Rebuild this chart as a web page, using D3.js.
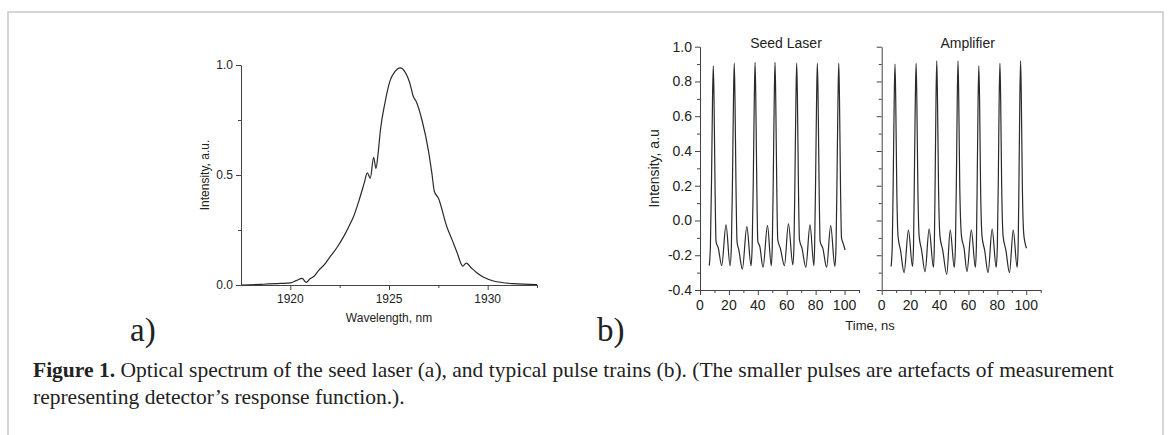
<!DOCTYPE html>
<html lang="en">
<head>
<meta charset="utf-8">
<title>Figure 1</title>
<script src="https://cdn.jsdelivr.net/npm/d3@7"></script>
<style>
  body { margin: 0; background: #fff; }
  svg text { font-family: "Liberation Sans", Arial, sans-serif; fill: #222; }
  .axis path, .axis line { stroke: #444; stroke-width: 1; }
  .serif { font-family: "Liberation Serif", "Times New Roman", serif; }
</style>
</head>
<body>
<script>
// ---- data: spectrum (panel a)
var wavelength = [1917.5, 1918.5, 1919.5, 1920.0, 1920.3, 1920.6, 1920.8, 1921.0, 1921.2, 1921.45,
  1921.7, 1922.0, 1922.4, 1922.7, 1923.0, 1923.2, 1923.5, 1923.75, 1923.9, 1924.05,
  1924.22, 1924.34, 1924.45, 1924.56, 1924.8, 1925.06, 1925.3, 1925.57, 1925.8, 1926.08,
  1926.22, 1926.4, 1926.67, 1927.0, 1927.17, 1927.3, 1927.5, 1927.93, 1928.2, 1928.44,
  1928.74, 1928.91, 1929.2, 1929.45, 1929.8, 1930.3, 1931.3, 1932.5];
var intensity = [0.000, 0.003, 0.007, 0.010, 0.020, 0.030, 0.012, 0.028, 0.040, 0.068,
  0.090, 0.127, 0.175, 0.220, 0.272, 0.310, 0.390, 0.465, 0.510, 0.485,
  0.580, 0.530, 0.600, 0.700, 0.830, 0.930, 0.970, 0.987, 0.970, 0.910,
  0.860, 0.830, 0.750, 0.610, 0.510, 0.425, 0.395, 0.265, 0.205, 0.150,
  0.086, 0.099, 0.075, 0.056, 0.035, 0.018, 0.006, 0.002];
var wlTicks = [1920, 1925, 1930];
var intTicks = [0.0, 0.5, 1.0];

// ---- data: pulse trains (panel b)
var seedTime = [6.4,
  7.2, 8.0, 8.7, 9.2, 9.7, 10.4, 11.1, 12.7, 15.0, 18.0, 20.8,
  21.7, 22.5, 23.2, 23.7, 24.2, 24.9, 25.6, 26.9, 29.3, 32.4, 35.3,
  36.1, 36.9, 37.6, 38.1, 38.6, 39.3, 40.0, 41.4, 43.6, 46.7, 49.3,
  50.0, 50.7, 51.4, 51.9, 52.4, 53.1, 53.8, 55.6, 58.4, 61.2, 64.2,
  65.0, 65.7, 66.4, 66.9, 67.4, 68.1, 68.8, 70.6, 73.2, 76.1, 78.8,
  79.3, 80.0, 80.7, 81.2, 81.7, 82.4, 83.1, 85.0, 87.6, 90.4, 93.3,
  94.1, 94.8, 95.5, 96.0, 96.5, 97.2, 97.9, 99.0, 100.4];
var seedValue = [-0.26,
  -0.15, 0.25, 0.72, 0.89, 0.70, 0.20, -0.12, -0.16, -0.26, -0.025, -0.26,
  -0.15, 0.25, 0.72, 0.905, 0.70, 0.20, -0.12, -0.17, -0.28, -0.035, -0.26,
  -0.15, 0.25, 0.72, 0.91, 0.70, 0.20, -0.12, -0.15, -0.27, -0.03, -0.26,
  -0.15, 0.25, 0.72, 0.91, 0.70, 0.20, -0.11, -0.16, -0.26, -0.02, -0.255,
  -0.15, 0.25, 0.72, 0.905, 0.70, 0.20, -0.11, -0.16, -0.27, -0.025, -0.26,
  -0.15, 0.25, 0.72, 0.905, 0.70, 0.20, -0.12, -0.16, -0.27, -0.03, -0.265,
  -0.15, 0.25, 0.72, 0.905, 0.70, 0.20, -0.10, -0.13, -0.17];
var ampTime = [6.5,
  7.3, 8.0, 8.7, 9.2, 9.7, 10.4, 11.3, 13.0, 15.5, 18.5, 21.3,
  22.0, 22.6, 23.3, 23.8, 24.3, 25.0, 25.9, 27.6, 30.0, 32.8, 35.8,
  36.4, 37.0, 37.6, 38.1, 38.6, 39.3, 40.3, 42.2, 45.0, 47.4, 50.2,
  51.0, 51.7, 52.3, 52.8, 53.3, 54.0, 55.2, 57.0, 59.0, 62.0, 64.8,
  65.5, 66.1, 66.7, 67.2, 67.7, 68.4, 69.4, 71.2, 73.6, 76.4, 79.2,
  80.0, 80.7, 81.3, 81.8, 82.3, 83.0, 84.0, 85.9, 88.4, 91.0, 93.7,
  94.4, 95.0, 95.6, 96.1, 96.6, 97.3, 98.2, 99.2, 100.2];
var ampValue = [-0.265,
  -0.15, 0.25, 0.72, 0.90, 0.70, 0.20, -0.09, -0.17, -0.30, -0.055, -0.265,
  -0.15, 0.25, 0.72, 0.905, 0.70, 0.20, -0.09, -0.17, -0.295, -0.05, -0.27,
  -0.15, 0.25, 0.72, 0.918, 0.70, 0.20, -0.09, -0.17, -0.31, -0.055, -0.27,
  -0.15, 0.25, 0.72, 0.918, 0.70, 0.20, -0.09, -0.16, -0.295, -0.055, -0.27,
  -0.15, 0.25, 0.70, 0.89, 0.70, 0.20, -0.09, -0.17, -0.30, -0.05, -0.27,
  -0.15, 0.25, 0.72, 0.905, 0.70, 0.20, -0.09, -0.17, -0.30, -0.055, -0.27,
  -0.15, 0.25, 0.72, 0.918, 0.70, 0.20, -0.07, -0.13, -0.16];
var timeTicks = [0, 20, 40, 60, 80, 100];
var pulseTicks = [-0.4, -0.2, 0.0, 0.2, 0.4, 0.6, 0.8, 1.0];

var W = 1171, H = 435;
var svg = d3.select("body").append("svg").attr("width", W).attr("height", H);

// frame
svg.append("rect").attr("x", 8).attr("y", 12).attr("width", 1155).attr("height", 460)
  .attr("fill", "none").attr("stroke", "#c8c8c8").attr("stroke-width", 1.5);

function zip(a, b) { return a.map(function(v, i) { return [v, b[i]]; }); }
function fmt1(d) { return d.toFixed(1); }

// draw an axis with major + minor ticks
function drawAxis(g, scale, orient, major, minor, labels, fs) {
  var mk = orient == "left" ? d3.axisLeft : d3.axisBottom;
  g.append("g").attr("class", "axis")
    .call(mk(scale).tickValues(minor).tickSize(3).tickFormat("").tickSizeOuter(0));
  var ax = g.append("g").attr("class", "axis")
    .call(mk(scale).tickValues(major).tickSize(5).tickSizeOuter(0)
      .tickFormat(labels ? fmt1 : ""));
  ax.select(".domain").remove();
  ax.selectAll("text").style("font-size", fs + "px").attr("fill", "#222");
  return ax;
}

// ---------- panel a
var ax0 = 241, ax1 = 537, ay0 = 285, ay1 = 65;
var xA = d3.scaleLinear().domain([1917.5, 1932.5]).range([ax0, ax1]);
var yA = d3.scaleLinear().domain([0, 1]).range([ay0, ay1]);
var gA = svg.append("g");

var gAx = gA.append("g").attr("transform", "translate(0," + ay0 + ")");
drawAxis(gAx, xA, "bottom", wlTicks, [1922.5, 1927.5, 1932.5], false, 12);
wlTicks.forEach(function(t) {
  gAx.append("text").attr("x", xA(t)).attr("y", 18).attr("text-anchor", "middle")
    .style("font-size", "12px").text(t);
});
var gAy = gA.append("g").attr("transform", "translate(" + ax0 + ",0)");
drawAxis(gAy, yA, "left", intTicks, [0.25, 0.75], true, 12);

gA.append("path").datum(zip(wavelength, intensity))
  .attr("fill", "none").attr("stroke", "#2a2a2a").attr("stroke-width", 1.2)
  .attr("d", d3.line().x(function(d) { return xA(d[0]); }).y(function(d) { return yA(d[1]); })
    .curve(d3.curveMonotoneX));

gA.append("text").attr("transform", "translate(" + 209 + "," + ((ay0 + ay1) / 2) + ") rotate(-90)")
  .attr("text-anchor", "middle").style("font-size", "12px").text("Intensity, a.u.");
gA.append("text").attr("x", (ax0 + ax1) / 2).attr("y", 322).attr("text-anchor", "middle")
  .style("font-size", "12px").text("Wavelength, nm");
gA.append("text").attr("class", "serif").attr("x", 130).attr("y", 341)
  .style("font-size", "33px").text("a)");

// ---------- panel b
var by0 = 290, by1 = 46.7;
var yB = d3.scaleLinear().domain([-0.4, 1.0]).range([by0, by1]);
var panels = [
  { x0: 700, title: "Seed Laser", t: seedTime, v: seedValue, labels: true },
  { x0: 881.7, title: "Amplifier", t: ampTime, v: ampValue, labels: false }
];
var minorY = [-0.3, -0.1, 0.1, 0.3, 0.5, 0.7, 0.9];
panels.forEach(function(p) {
  var xB = d3.scaleLinear().domain([0, 110]).range([p.x0, p.x0 + 159]);
  var g = svg.append("g");
  var gx = g.append("g").attr("transform", "translate(0," + by0 + ")");
  drawAxis(gx, xB, "bottom", timeTicks, [10, 30, 50, 70, 90, 110], false, 14);
  timeTicks.forEach(function(t) {
    gx.append("text").attr("x", xB(t)).attr("y", 20).attr("text-anchor", "middle")
      .style("font-size", "14px").text(t);
  });
  var gy = g.append("g").attr("transform", "translate(" + p.x0 + ",0)");
  drawAxis(gy, yB, "left", pulseTicks, minorY, p.labels, 14);
  g.append("path").datum(zip(p.t, p.v))
    .attr("fill", "none").attr("stroke", "#2a2a2a").attr("stroke-width", 1.2)
    .attr("d", d3.line().x(function(d) { return xB(d[0]); }).y(function(d) { return yB(d[1]); })
      .curve(d3.curveMonotoneX));
  g.append("text").attr("x", p.x0 + 86).attr("y", 48).attr("text-anchor", "middle")
    .style("font-size", "14px").text(p.title);
});
svg.append("text").attr("transform", "translate(" + 659 + "," + ((by0 + by1) / 2) + ") rotate(-90)")
  .attr("text-anchor", "middle").style("font-size", "14px").text("Intensity, a.u");
svg.append("text").attr("x", 870).attr("y", 330).attr("text-anchor", "middle")
  .style("font-size", "13px").text("Time, ns");
svg.append("text").attr("class", "serif").attr("x", 597).attr("y", 341)
  .style("font-size", "33px").text("b)");

// ---------- caption
var cap = svg.append("text").attr("class", "serif").attr("x", 33).attr("y", 377)
  .style("font-size", "21.5px");
cap.append("tspan").style("font-weight", "bold").text("Figure 1.");
cap.append("tspan").text(" Optical spectrum of the seed laser (a), and typical pulse trains (b). (The smaller pulses are artefacts of measurement");
svg.append("text").attr("class", "serif").attr("x", 33).attr("y", 404)
  .style("font-size", "21.5px").text("representing detector\u2019s response function.).");
</script>
</body>
</html>
